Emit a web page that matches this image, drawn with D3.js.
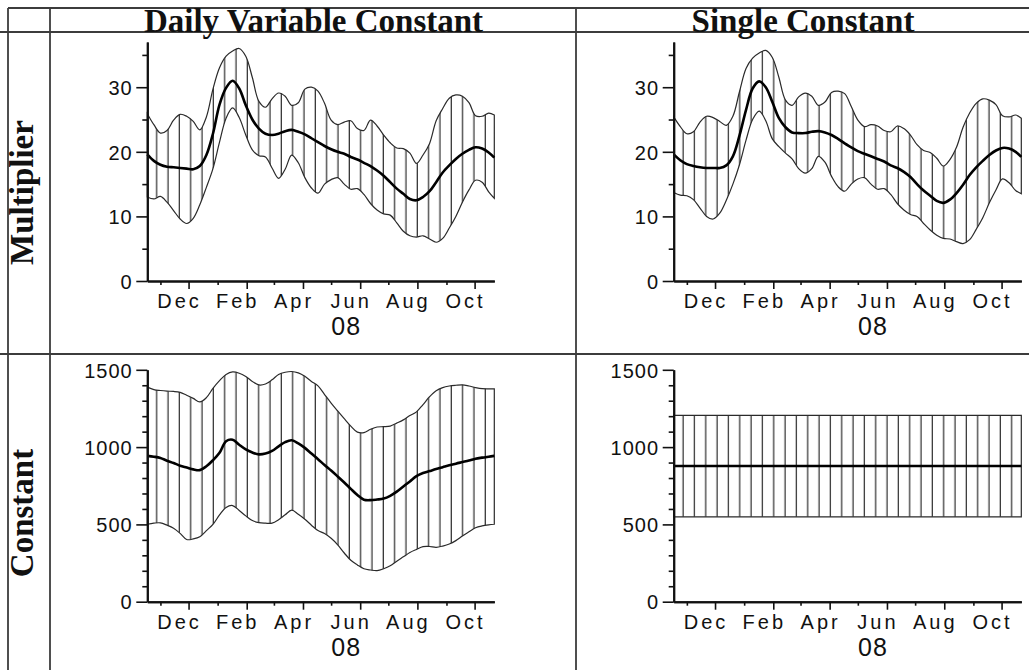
<!doctype html>
<html lang="en">
<head>
<meta charset="utf-8">
<title>Multiplier / Constant bands</title>
<script src="https://d3js.org/d3.v7.min.js"></script>
<style>
  body { margin: 0; background: #fff; }
  svg { display: block; }
  .title { font-family: "Liberation Serif", "Times New Roman", serif; font-weight: bold; font-size: 33px; fill: #111; }
  .tick-label { font-family: "Liberation Sans", Arial, sans-serif; font-size: 20px; letter-spacing: 1px; fill: #111; }
  .month-label { font-family: "Liberation Sans", Arial, sans-serif; font-size: 20px; letter-spacing: 3px; fill: #111; }
  .year-label { font-family: "Liberation Sans", Arial, sans-serif; font-size: 25px; letter-spacing: 1px; fill: #111; }
  .axis path { stroke: #111; stroke-width: 2; }
  .axis line { stroke: #111; stroke-width: 1.6; }
</style>
</head>
<body>
<script>
// date range of every panel, sampled weekly
var parseDate = d3.utcParse("%Y-%m-%d");
var startDate = parseDate("2007-10-18");
var endDate = parseDate("2008-10-22");
var sampleDates = d3.range(53).map(function(k) { return d3.utcDay.offset(startDate, 7 * k); }).concat([endDate]);
var constantDates = [startDate, endDate];

// x axis ticks and labels
var labelDates = ["2007-12-01", "2008-02-01", "2008-04-01", "2008-06-01", "2008-08-01", "2008-10-01"].map(parseDate);
var monthLabels = ["Dec", "Feb", "Apr", "Jun", "Aug", "Oct"];
var minorDates = ["2007-11-01", "2008-01-01", "2008-03-01", "2008-05-01", "2008-07-01", "2008-09-01"].map(parseDate);
var yearDate = parseDate("2008-06-01");
var yearLabel = "08";

// y axis ticks
var multTicks = [0, 10, 20, 30];
var multMinor = [5, 15, 25, 35];
var constTicks = [0, 500, 1000, 1500];
var constMinor = [100, 200, 300, 400, 600, 700, 800, 900, 1100, 1200, 1300, 1400];

var colLabels = ["Daily Variable Constant", "Single Constant"];
var rowLabels = ["Multiplier", "Constant"];

// Multiplier, daily variable constant
var mulDailyUpper = [25.9, 24.2, 22.9, 23.3, 24.9, 25.8, 25.5, 24.7, 23.4, 25.4, 29.7, 33.0, 34.8, 35.6, 36.0, 34.8, 31.5, 27.8, 26.9, 28.2, 29.1, 28.6, 27.2, 27.6, 29.7, 30.0, 29.4,
  27.5, 24.9, 24.2, 24.6, 24.8, 23.6, 23.3, 24.9, 24.0, 22.6, 21.4, 20.6, 20.5, 19.8, 18.2, 19.5, 21.3, 24.8, 26.7, 28.3, 28.8, 28.6, 27.6, 25.6, 25.5, 26.0, 25.7];
var mulDailyMean = [19.6, 18.6, 18.0, 17.7, 17.6, 17.5, 17.4, 17.3, 17.8, 19.5, 22.8, 27.3, 29.9, 31.0, 29.8, 27.2, 25.0, 23.6, 22.8, 22.6, 22.8, 23.2, 23.4, 23.1, 22.7, 22.1, 21.5,
  20.9, 20.4, 20.0, 19.7, 19.2, 18.8, 18.3, 17.8, 17.1, 16.3, 15.3, 14.3, 13.5, 12.7, 12.5, 13.0, 13.9, 15.3, 16.8, 17.9, 18.9, 19.7, 20.3, 20.7, 20.5, 19.9, 19.1];
var mulDailyLower = [13.0, 12.7, 13.1, 12.2, 10.9, 9.6, 8.9, 9.7, 11.8, 14.5, 17.4, 21.5, 25.2, 26.8, 25.3, 22.6, 20.3, 19.4, 19.2, 17.5, 15.9, 17.3, 19.5, 18.3, 16.0, 14.4, 13.6,
  15.0, 15.7, 16.0, 15.0, 14.2, 14.3, 13.4, 12.0, 11.0, 10.4, 10.2, 9.0, 7.7, 7.0, 6.8, 7.0, 6.5, 6.0, 6.6, 8.2, 10.0, 12.2, 14.1, 15.6, 15.3, 13.8, 12.8];

// Multiplier, single constant
var mulSingleUpper = [25.4, 23.9, 22.8, 23.1, 24.6, 25.5, 25.3, 24.7, 24.1, 25.5, 29.3, 32.9, 34.5, 35.3, 35.7, 34.6, 31.5, 28.0, 27.2, 28.5, 29.1, 28.6, 27.2, 27.7, 29.2, 29.4, 29.0,
  27.0, 24.9, 23.9, 24.2, 24.0, 23.3, 23.1, 24.0, 23.6, 22.6, 21.1, 20.2, 19.9, 19.0, 17.8, 18.8, 20.7, 23.8, 26.0, 27.5, 28.2, 28.0, 27.3, 25.6, 25.4, 25.7, 25.2];
var mulSingleMean = [19.6, 18.7, 18.1, 17.8, 17.6, 17.5, 17.5, 17.5, 17.9, 19.3, 22.5, 26.5, 29.8, 30.9, 30.0, 27.7, 25.2, 23.8, 23.0, 22.9, 22.9, 23.1, 23.2, 23.0, 22.6, 22.0, 21.3,
  20.7, 20.1, 19.7, 19.3, 18.9, 18.5, 17.9, 17.5, 16.9, 16.1, 15.0, 14.0, 13.2, 12.4, 12.1, 12.6, 13.6, 14.9, 16.4, 17.6, 18.6, 19.5, 20.2, 20.6, 20.5, 20.0, 19.2];
var mulSingleLower = [13.7, 13.3, 13.2, 12.6, 11.3, 10.0, 9.6, 10.5, 12.5, 15.0, 18.0, 21.8, 25.0, 26.3, 24.8, 22.0, 20.8, 19.8, 18.9, 17.4, 16.7, 17.4, 19.3, 18.4, 16.2, 14.6, 13.9,
  15.0, 15.8, 16.0, 15.0, 14.2, 14.3, 13.4, 12.0, 11.0, 10.3, 10.0, 8.9, 7.9, 7.1, 6.6, 6.5, 6.1, 5.8, 6.4, 8.0, 9.8, 12.1, 14.1, 15.8, 15.2, 14.0, 13.5];

// Constant, daily variable constant
var conDailyUpper = [1388, 1372, 1366, 1362, 1360, 1354, 1335, 1315, 1292, 1320, 1380, 1430, 1470, 1486, 1478, 1457, 1425, 1402, 1408, 1435, 1470, 1484, 1489, 1480, 1458, 1425, 1396,
  1340, 1285, 1234, 1184, 1136, 1097, 1094, 1115, 1130, 1132, 1136, 1155, 1176, 1204, 1228, 1275, 1326, 1365, 1385, 1395, 1400, 1403, 1395, 1385, 1378, 1377, 1377];
var conDailyMean = [943, 938, 930, 912, 897, 880, 868, 856, 851, 876, 915, 963, 1038, 1048, 1015, 985, 965, 953, 958, 975, 1005, 1032, 1044, 1024, 995, 958, 922,
  884, 848, 810, 771, 730, 690, 660, 657, 661, 667, 685, 712, 745, 778, 812, 832, 845, 858, 870, 882, 893, 903, 913, 925, 932, 938, 943];
var conDailyLower = [501, 508, 510, 495, 475, 442, 402, 406, 420, 460, 500, 561, 610, 622, 590, 555, 525, 511, 508, 508, 530, 562, 592, 565, 533, 495, 460,
  441, 410, 368, 315, 268, 238, 213, 205, 201, 213, 232, 262, 290, 318, 338, 356, 357, 352, 360, 373, 395, 425, 452, 478, 490, 497, 501];

// Constant, single constant
var conSingleUpper = [1205, 1205];
var conSingleMean = [878, 878];
var conSingleLower = [549, 549];

// page layout
var W = 1029, H = 670;
var cols = [{ left: 147.3, right: 494.3, mid: 313.5 }, { left: 673.7, right: 1021.3, mid: 803 }];
var rows = [
  { top: 42, bottom: 281, mid: 192.5, yMax: 37, ticks: multTicks, minor: multMinor },
  { top: 369.8, bottom: 601.7, mid: 513, yMax: 1500, ticks: constTicks, minor: constMinor }
];

function zipBand(dates, upper, mean, lower) {
  return dates.map(function(d, i) {
    return { date: d, upper: upper[i], mean: mean[i], lower: lower[i] };
  });
}

var panels = [
  { col: 0, row: 0, data: zipBand(sampleDates, mulDailyUpper, mulDailyMean, mulDailyLower) },
  { col: 1, row: 0, data: zipBand(sampleDates, mulSingleUpper, mulSingleMean, mulSingleLower) },
  { col: 0, row: 1, data: zipBand(sampleDates, conDailyUpper, conDailyMean, conDailyLower) },
  { col: 1, row: 1, data: zipBand(constantDates, conSingleUpper, conSingleMean, conSingleLower), flat: true }
];

var svg = d3.select("body").append("svg")
  .attr("width", W)
  .attr("height", H);

// vertical hatching for the bands
svg.append("defs").append("pattern")
  .attr("id", "hatch")
  .attr("patternUnits", "userSpaceOnUse")
  .attr("x", 4.4)
  .attr("y", 0)
  .attr("width", 11.33)
  .attr("height", 20)
  .append("line")
  .attr("x1", 5).attr("x2", 5)
  .attr("y1", 0).attr("y2", 20)
  .attr("stroke", "#2a2a2a")
  .attr("stroke-width", 1.2);

panels.forEach(function(p) {
  var c = cols[p.col], r = rows[p.row];
  var w = c.right - c.left, h = r.bottom - r.top;

  var x = d3.scaleUtc().domain([startDate, endDate]).range([0, w]);
  var y = d3.scaleLinear().domain([0, r.yMax]).range([h, 0]);

  var g = svg.append("g").attr("transform", "translate(" + c.left + "," + r.top + ")");

  var curve = p.flat ? d3.curveLinear : d3.curveCatmullRom.alpha(0.5);

  var area = d3.area()
    .x(function(d) { return x(d.date); })
    .y0(function(d) { return y(d.lower); })
    .y1(function(d) { return y(d.upper); })
    .curve(curve);

  var line = d3.line()
    .x(function(d) { return x(d.date); })
    .y(function(d) { return y(d.mean); })
    .curve(curve);

  g.append("path")
    .datum(p.data)
    .attr("d", area)
    .attr("fill", "url(#hatch)")
    .attr("stroke", "#2a2a2a")
    .attr("stroke-width", 1.2);

  g.append("path")
    .datum(p.data)
    .attr("d", line)
    .attr("fill", "none")
    .attr("stroke", "#000")
    .attr("stroke-width", 2.6);

  // y axis: minor then major ticks
  g.append("g").attr("class", "axis")
    .call(d3.axisLeft(y).tickValues(r.minor).tickSize(5).tickSizeOuter(0).tickFormat(""));
  var yAxis = g.append("g").attr("class", "axis")
    .call(d3.axisLeft(y).tickValues(r.ticks).tickSize(11).tickSizeOuter(0).tickPadding(3.6).tickFormat(d3.format("d")));
  yAxis.selectAll("text").attr("class", "tick-label").attr("dy", "0.36em");

  // x axis: minor then labelled ticks
  g.append("g").attr("class", "axis")
    .attr("transform", "translate(0," + h + ")")
    .call(d3.axisBottom(x).tickValues(minorDates).tickSize(4).tickSizeOuter(0).tickFormat(""));
  var xAxis = g.append("g").attr("class", "axis")
    .attr("transform", "translate(0," + h + ")")
    .call(d3.axisBottom(x).tickValues(labelDates).tickSize(8).tickSizeOuter(0)
      .tickFormat(function(d, i) { return monthLabels[i]; }));
  xAxis.selectAll("text")
    .attr("class", "month-label")
    .attr("x", -9.5)
    .attr("y", 27)
    .attr("dy", 0);

  g.append("text")
    .attr("class", "year-label")
    .attr("x", x(yearDate) - 14)
    .attr("y", h + 54)
    .attr("text-anchor", "middle")
    .text(yearLabel);
});

// table grid
var grid = svg.append("g")
  .attr("stroke", "#3c3c3c")
  .attr("stroke-width", 1.8);
[[8, 8, W, 8], [0, 32, W, 32], [0, 354, W, 354], [8, 8, 8, H], [50, 8, 50, H], [576, 8, 576, H]]
  .forEach(function(s) {
    grid.append("line").attr("x1", s[0]).attr("y1", s[1]).attr("x2", s[2]).attr("y2", s[3]);
  });

// column and row headers
svg.selectAll(".col-title")
  .data(colLabels)
  .enter()
  .append("text")
  .attr("class", "title")
  .attr("x", function(d, i) { return cols[i].mid; })
  .attr("y", 32)
  .attr("text-anchor", "middle")
  .text(function(d) { return d; });

svg.selectAll(".row-title")
  .data(rowLabels)
  .enter()
  .append("text")
  .attr("class", "title")
  .attr("transform", function(d, i) { return "translate(33," + rows[i].mid + ") rotate(-90)"; })
  .attr("text-anchor", "middle")
  .text(function(d) { return d; });
</script>
</body>
</html>
